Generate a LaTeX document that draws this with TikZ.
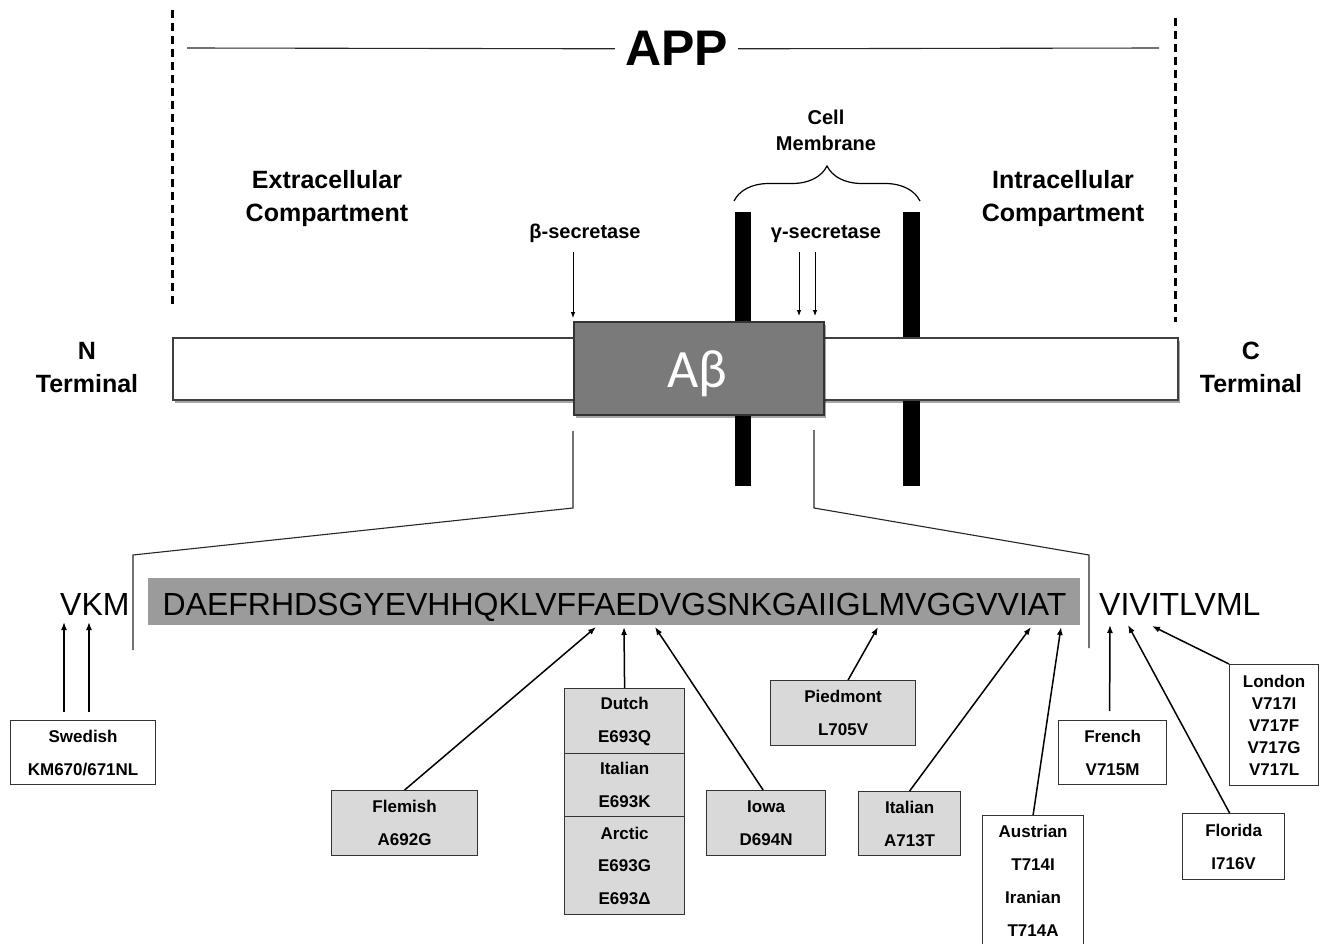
\documentclass[tikz,border=0pt]{standalone}
\usepackage{fontspec}
\setmainfont{Liberation Sans}
\newfontfamily\calib{Carlito}
\usetikzlibrary{arrows.meta,shadows,decorations.pathreplacing}
\definecolor{seqgray}{RGB}{155,155,155}
\definecolor{boxgray}{RGB}{217,217,217}
\definecolor{abgray}{RGB}{122,122,122}
\begin{document}
\begin{tikzpicture}[x=1pt,y=-1pt,
  lbl/.style={font=\bfseries\fontsize{25}{33}\selectfont, align=center, inner sep=0pt},
  smalllbl/.style={font=\bfseries\fontsize{20}{26}\selectfont, align=center, inner sep=0pt},
  mbox/.style={draw=black!80, line width=1.2pt, font=\bfseries\fontsize{17}{33}\selectfont, align=center, inner sep=0pt, anchor=north west},
  gbox/.style={mbox, fill=boxgray},
  wbox/.style={mbox, fill=white},
  arr/.style={line width=1.5pt, -{Latex[length=8pt,width=6pt]}},
  sarr/.style={line width=0.8pt, -{Latex[length=6pt,width=4.5pt]}},
  dashline/.style={line width=3pt, dash pattern=on 8pt off 5pt},
  thinline/.style={line width=1.1pt, draw=black!85},
  seqtxt/.style={font=\fontsize{32}{38}\selectfont, inner sep=0pt},
  shade/.style={drop shadow={shadow xshift=2pt, shadow yshift=-3pt, fill=black, opacity=0.35}}
]
\useasboundingbox (0,0) rectangle (1327,944);

% dashed compartment borders
\coordinate (dl1) at (172,10);
\coordinate (dl2) at (172,305);
\coordinate (dr1) at (1175,18);
\coordinate (dr2) at (1175,322);
\draw[dashline] (dl1) -- (dl2);
\draw[dashline] (dr1) -- (dr2);

% APP title
\node[font=\bfseries\fontsize{50}{60}\selectfont, inner xsep=10pt, inner ysep=0pt, anchor=base] (app) at (676.5,66) {APP};
\coordinate (appl) at (187,48);
\coordinate (appr) at (1159,48);
\draw[thinline] (appl) -- (app.west);
\draw[thinline] (app.east) -- (appr);

% compartment labels
\node[lbl] (extra) at (327,199) {Extracellular\\Compartment};
\node[lbl] (intra) at (1063,199) {Intracellular\\Compartment};
\node[smalllbl] (cellm) at (826,130) {Cell\\Membrane};
\coordinate (brl) at (734,201);
\coordinate (brr) at (920,201);
\draw[line width=1.2pt, decorate, decoration={brace, amplitude=35pt}] (brl) -- (brr);

\node[font=\bfseries\fontsize{20}{24}\selectfont, inner sep=0pt, anchor=base] (bsec) at (585,238) {β-secretase};
\node[font=\bfseries\fontsize{20}{24}\selectfont, inner sep=0pt, anchor=base] (gsec) at (826,238) {γ-secretase};

% membrane bars
\fill[black] (735,212) rectangle (751,486);
\fill[black] (903,212) rectangle (920,486);

% APP protein bar
\node[draw=black!75, line width=1.5pt, fill=white, shade, minimum width=1005pt, minimum height=62pt, anchor=north west] (appbar) at (172,337) {};
\node[draw=black!80, line width=2pt, fill=abgray, shade, minimum width=250pt, minimum height=93pt, anchor=north west] (abeta) at (573,321) {};
\node[font=\calib\fontsize{54}{60}\selectfont, text=white, inner sep=0pt, anchor=base] (abtxt) at (697,387) {Aβ};

\node[lbl] (nterm) at (87,367.5) {N\\Terminal};
\node[lbl] (cterm) at (1251,367.5) {C\\Terminal};

% secretase arrows
\coordinate (b1) at (573,252);
\coordinate (b2) at (573,318);
\coordinate (g1) at (799,252);
\coordinate (g2) at (799,316);
\coordinate (g3) at (815,252);
\coordinate (g4) at (815,316);
\draw[sarr] (b1) -- (b2);
\draw[sarr] (g1) -- (g2);
\draw[sarr] (g3) -- (g4);

% zoom lines
\coordinate (zl1) at (573,431);
\coordinate (zl2) at (573,508);
\coordinate (zl3) at (133,555);
\coordinate (zl4) at (133,650);
\coordinate (zr1) at (814,430);
\coordinate (zr2) at (814,508);
\coordinate (zr3) at (1089,555);
\coordinate (zr4) at (1089,648);
\draw[thinline] (zl1) -- (zl2) -- (zl3) -- (zl4);
\draw[thinline] (zr1) -- (zr2) -- (zr3) -- (zr4);

% sequence
\node[fill=seqgray, minimum width=932pt, minimum height=47pt, inner sep=0pt, anchor=north west] (seqbox) at (148,578) {};
\node[seqtxt, anchor=base] (seq) at (614.5,615) {DAEFRHDSGYEVHHQKLVFFAEDVGSNKGAIIGLMVGGVVIAT};
\node[seqtxt, anchor=base west] (vkm) at (60,615) {VKM};
\node[seqtxt, anchor=base west] (vivi) at (1099,615) {VIVITLVML};

% mutation boxes
\node[wbox, minimum width=145pt, minimum height=64pt] (swedish) at (10,720) {Swedish\\KM670/671NL};
\node[gbox, minimum width=146pt, minimum height=65pt] (flemish) at (331,790) {Flemish\\A692G};
\node[gbox, minimum width=120pt, minimum height=65pt] (dutch) at (564,688) {Dutch\\E693Q};
\node[gbox, minimum width=120pt, minimum height=63pt] (italianA) at (564,753) {Italian\\E693K};
\node[gbox, minimum width=120pt, minimum height=98pt, font=\bfseries\fontsize{17}{32.5}\selectfont] (arctic) at (564,816) {Arctic\\E693G\\E693Δ};
\node[gbox, minimum width=119pt, minimum height=65pt] (iowa) at (706,790) {Iowa\\D694N};
\node[gbox, minimum width=145pt, minimum height=65pt] (piedmont) at (770,680) {Piedmont\\L705V};
\node[gbox, minimum width=102pt, minimum height=64pt] (italianB) at (858,791) {Italian\\A713T};
\node[wbox, minimum width=101pt, minimum height=130pt] (austrian) at (982,815) {Austrian\\T714I\\Iranian\\T714A};
\node[wbox, minimum width=108pt, minimum height=64pt] (french) at (1058,720) {French\\V715M};
\node[wbox, minimum width=102pt, minimum height=66pt] (florida) at (1182,813) {Florida\\I716V};
\node[wbox, minimum width=89pt, minimum height=121pt, font=\bfseries\fontsize{17}{22}\selectfont] (london) at (1229,664) {London\\V717I\\V717F\\V717G\\V717L};

% arrow targets
\coordinate (tK) at (64,622);
\coordinate (tM) at (89,622);
\coordinate (sK) at (64,712);
\coordinate (sM) at (89,712);
\coordinate (t692) at (596,627);
\coordinate (t693) at (624,627);
\coordinate (t694) at (655,627);
\coordinate (t705) at (878,627);
\coordinate (t713) at (1031,627);
\coordinate (t714) at (1061,627);
\coordinate (t715) at (1110,625);
\coordinate (t716) at (1128,625);
\coordinate (t717) at (1152,626);

\draw[arr] (sK) -- (tK);
\draw[arr] (sM) -- (tM);
\draw[arr] (flemish.north) -- (t692);
\draw[arr] (dutch.north) -- (t693);
\draw[arr] ([xshift=-3pt]iowa.north) -- (t694);
\draw[arr] ([xshift=5pt]piedmont.north) -- (t705);
\draw[arr] (italianB.north) -- (t713);
\draw[arr] (austrian.north) -- (t714);
\draw[arr] ([xshift=-3pt,yshift=9pt]french.north) -- (t715);
\draw[arr] ([xshift=-4pt]florida.north) -- (t716);
\draw[arr] (london.north west) -- (t717);
\end{tikzpicture}
\end{document}
